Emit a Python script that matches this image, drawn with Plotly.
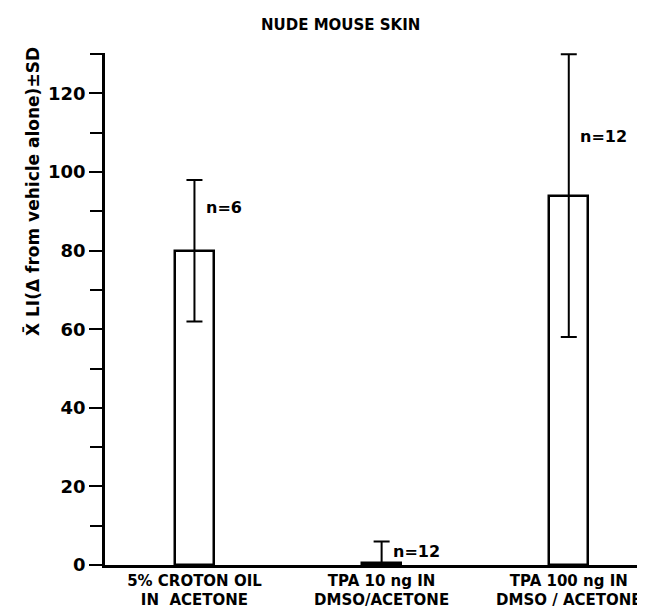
import plotly.graph_objects as go

categories = ["5% CROTON OIL<br>IN  ACETONE", "TPA 10 ng IN<br>DMSO/ACETONE", "TPA 100 ng IN<br>DMSO / ACETONE"]
means = [80, 0.5, 94]
sd_plus = [18, 5.5, 36]
sd_minus = [18, 0, 36]
n_labels = ["n=6", "n=12", "n=12"]
n_label_y = [91, 3.5, 109]

FONT = "DejaVu Sans, sans-serif"
FONT_C = "DejaVu Sans Condensed, DejaVu Sans, sans-serif"
xpos = list(range(len(categories)))

fig = go.Figure()
fig.add_trace(go.Bar(
    x=xpos, y=means, width=0.21,
    marker=dict(color="white", line=dict(color="black", width=2.5)),
    error_y=dict(type="data", symmetric=False, array=sd_plus, arrayminus=sd_minus,
                 color="black", thickness=2, width=8),
    showlegend=False,
))

for i, (t, yy) in enumerate(zip(n_labels, n_label_y)):
    fig.add_annotation(x=i + 0.05, y=yy, text=t, showarrow=False, xanchor="left",
                       yanchor="middle", font=dict(size=16, family=FONT, color="black", weight="bold"))

fig.add_annotation(xref="paper", yref="paper", x=(332 - 97) / 548, y=1.0 + (45 - 17) / 512,
                   text="NUDE MOUSE SKIN", showarrow=False, xanchor="center", yanchor="middle",
                   font=dict(size=15, family=FONT, color="black", weight="bold"))

fig.add_annotation(xref="paper", yref="paper", x=-(97 - 24) / 548, y=(557 - 184) / 512,
                   text="X\u0304 LI(\u0394 from vehicle alone)\u00b1SD", textangle=-90, showarrow=False,
                   xanchor="center", yanchor="middle",
                   font=dict(size=17, family=FONT, color="black", weight="bold"))

fig.update_layout(
    width=645, height=608,
    margin=dict(l=97, r=0, t=45, b=51),
    plot_bgcolor="white", paper_bgcolor="white",
    font=dict(family=FONT, color="black"),
    bargap=0,
)
fig.update_xaxes(
    range=[-0.478, 2.45], tickvals=xpos, ticktext=categories,
    showline=True, linecolor="black", linewidth=2.5, ticks="", showgrid=False, zeroline=False,
    tickfont=dict(size=15, family=FONT, color="black", weight="bold"),
)
fig.update_yaxes(
    range=[0, 130.3], tickvals=[0, 20, 40, 60, 80, 100, 120],
    showline=True, linecolor="black", linewidth=2.5, ticks="outside", ticklen=13, tickwidth=2,
    tickcolor="black", showgrid=False, zeroline=False,
    minor=dict(tickvals=[10, 30, 50, 70, 90, 110, 130], ticks="outside", ticklen=12,
               tickwidth=2, tickcolor="black", showgrid=False),
    tickfont=dict(size=18, family=FONT, color="black", weight="bold"),
)

fig.write_html("out.html")
